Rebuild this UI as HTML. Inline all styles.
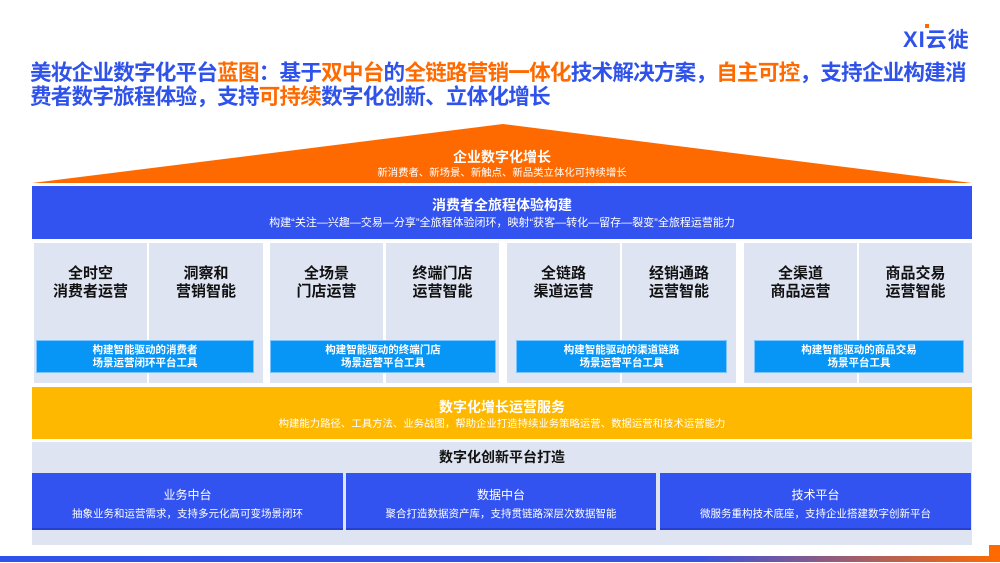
<!DOCTYPE html>
<html><head><meta charset="utf-8"><style>
*{margin:0;padding:0;box-sizing:border-box}
body{width:1000px;height:563px;background:#fff;position:relative;overflow:hidden;font-family:"Liberation Sans","Noto Sans CJK SC",sans-serif}
.a{position:absolute}
.t{font-weight:bold;color:#2f52ea;font-size:21.6px;line-height:24px;letter-spacing:-0.8px;white-space:nowrap}
.o{color:#ff6a00}
.c{text-align:center}
.cell{background:#dfe4f2;top:243px;height:140px}
.cell b{display:block;text-align:center;margin-top:22px;font-size:15px;line-height:18px;color:#111}
.tool{background:#0896f6;top:340px;height:33px;color:#fff;font-size:10.5px;font-weight:bold;line-height:13px;text-align:center;padding-top:3px;border:1px solid #7cc4ff}
.bb{background:#3353f0;top:473px;height:57px;color:#fff;text-align:center;border-bottom:2px solid #2840d0}
</style></head><body>
<div class="a" style="left:903px;top:24px;font-size:22px;font-weight:bold;color:#2f52ea;letter-spacing:1px">XI<span style="font-size:21px">云徙</span></div>
<div class="a" style="left:925px;top:24px;width:4px;height:4px;background:#ff6a00"></div>
<div class="a t" style="left:30px;top:61px">美妆企业数字化平台<span class="o">蓝图</span>：基于<span class="o">双中台</span>的<span class="o">全链路营销一体化</span>技术解决方案，<span class="o">自主可控</span>，支持企业构建消<br>费者数字旅程体验，支持<span class="o">可持续</span>数字化创新、立体化增长</div>
<svg class="a" style="left:0;top:0" width="1000" height="563"><polygon points="503,124 972,183 32,183" fill="#ff6a00"/>
<defs><linearGradient id="g"><stop offset="0" stop-color="#2f52ea"/><stop offset="0.7" stop-color="#3a52e0"/><stop offset="1" stop-color="#ff6a00"/></linearGradient></defs>
<rect x="0" y="556" width="1000" height="6" fill="url(#g)"/><rect x="989" y="545" width="11" height="12" fill="#ff6a00"/></svg>
<div class="a c" style="left:32px;top:147px;width:940px;color:#fff;font-weight:bold;font-size:14px">企业数字化增长</div>
<div class="a c" style="left:32px;top:164px;width:940px;color:#fff;font-size:10.4px">新消费者、新场景、新触点、新品类立体化可持续增长</div>
<div class="a" style="left:32px;top:186px;width:940px;height:53px;background:#3353f0"></div>
<div class="a c" style="left:32px;top:195px;width:940px;color:#fff;font-weight:bold;font-size:14px">消费者全旅程体验构建</div>
<div class="a c" style="left:32px;top:214px;width:940px;color:#fff;font-size:11px">构建“关注—兴趣—交易—分享”全旅程体验闭环，映射“获客—转化—留存—裂变”全旅程运营能力</div>

<div class="a cell" style="left:34px;width:113px"><b>全时空<br>消费者运营</b></div>
<div class="a cell" style="left:149px;width:114px"><b>洞察和<br>营销智能</b></div>
<div class="a cell" style="left:270px;width:113px"><b>全场景<br>门店运营</b></div>
<div class="a cell" style="left:386px;width:113px"><b>终端门店<br>运营智能</b></div>
<div class="a cell" style="left:507px;width:113px"><b>全链路<br>渠道运营</b></div>
<div class="a cell" style="left:622px;width:114px"><b>经销通路<br>运营智能</b></div>
<div class="a cell" style="left:744px;width:113px"><b>全渠道<br>商品运营</b></div>
<div class="a cell" style="left:859px;width:113px"><b>商品交易<br>运营智能</b></div>
<div class="a tool" style="left:36px;width:218px">构建智能驱动的消费者<br>场景运营闭环平台工具</div>
<div class="a tool" style="left:270px;width:226px">构建智能驱动的终端门店<br>场景运营平台工具</div>
<div class="a tool" style="left:516px;width:211px">构建智能驱动的渠道链路<br>场景运营平台工具</div>
<div class="a tool" style="left:754px;width:210px">构建智能驱动的商品交易<br>场景平台工具</div>

<div class="a" style="left:32px;top:387px;width:940px;height:52px;background:#ffb800"></div>
<div class="a c" style="left:32px;top:397px;width:940px;color:#fff;font-weight:bold;font-size:14px">数字化增长运营服务</div>
<div class="a c" style="left:32px;top:415px;width:940px;color:#fff;font-size:10.4px">构建能力路径、工具方法、业务战图，帮助企业打造持续业务策略运营、数据运营和技术运营能力</div>
<div class="a" style="left:32px;top:442px;width:940px;height:103px;background:#dfe4f2"></div>
<div class="a c" style="left:32px;top:447px;width:940px;color:#111;font-weight:bold;font-size:14px">数字化创新平台打造</div>
<div class="a bb" style="left:32px;width:311px"><div style="font-size:12px;margin-top:13px">业务中台</div><div style="font-size:10.5px;margin-top:3px">抽象业务和运营需求，支持多元化高可变场景闭环</div></div>
<div class="a bb" style="left:346px;width:310px"><div style="font-size:12px;margin-top:13px">数据中台</div><div style="font-size:10.5px;margin-top:3px">聚合打造数据资产库，支持贯链路深层次数据智能</div></div>
<div class="a bb" style="left:660px;width:311px"><div style="font-size:12px;margin-top:13px">技术平台</div><div style="font-size:10.5px;margin-top:3px">微服务重构技术底座，支持企业搭建数字创新平台</div></div>
</body></html>
